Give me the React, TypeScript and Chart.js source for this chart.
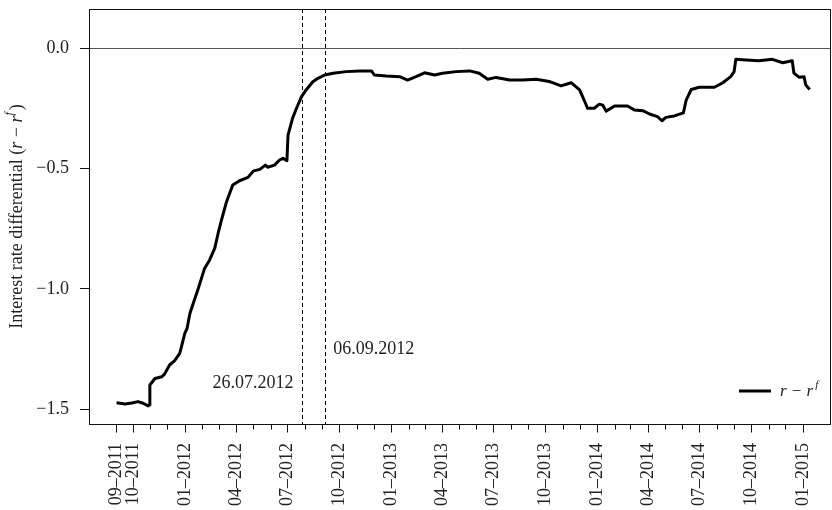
import { useEffect, useRef } from "react";
import { Chart, registerables } from "chart.js";

Chart.register(...registerables);

// ---- data (days since 01-09-2011, interest rate differential) ----
const dayOffsets = [
  1, 16, 28, 39, 48, 57, 59, 60, 69, 81,
  86, 95, 104, 113, 122, 126, 131, 137, 145, 157,
  166, 175, 181, 187, 196, 207, 219, 234, 244, 255,
  265, 269, 281, 290, 296, 303, 305, 313, 320, 329,
  337, 349, 358, 370, 385, 408, 432, 453, 458, 479,
  503, 517, 532, 547, 565, 579, 603, 627, 644, 659,
  674, 698, 721, 745, 768, 774, 789, 807, 822, 830,
  836, 848, 857, 863, 869, 884, 907, 919, 934, 946,
  960, 968, 975, 990, 1006, 1011, 1020, 1034, 1061, 1076,
  1090, 1096, 1099, 1117, 1140, 1164, 1182, 1199, 1202, 1211,
  1220, 1223, 1230,
];
const diffValues = [
  -1.473, -1.478, -1.474, -1.468, -1.475, -1.486, -1.482, -1.399, -1.372, -1.365,
  -1.354, -1.316, -1.298, -1.268, -1.185, -1.164, -1.102, -1.06, -1.005, -0.915,
  -0.88, -0.832, -0.77, -0.714, -0.638, -0.569, -0.551, -0.537, -0.51, -0.504,
  -0.486, -0.495, -0.486, -0.465, -0.458, -0.468, -0.362, -0.292, -0.25, -0.202,
  -0.174, -0.14, -0.126, -0.112, -0.105, -0.098, -0.095, -0.095, -0.112, -0.116,
  -0.119, -0.133, -0.119, -0.103, -0.112, -0.105, -0.098, -0.095, -0.105, -0.13,
  -0.122, -0.133, -0.133, -0.13, -0.139, -0.144, -0.157, -0.144, -0.174, -0.216,
  -0.25, -0.25, -0.233, -0.237, -0.262, -0.241, -0.241, -0.257, -0.26, -0.274,
  -0.285, -0.302, -0.288, -0.282, -0.269, -0.216, -0.172, -0.163, -0.163, -0.144,
  -0.119, -0.098, -0.047, -0.05, -0.053, -0.047, -0.061, -0.053, -0.104, -0.121,
  -0.119, -0.153, -0.172,
];
const xTickLabels = [
  "09–2011", "10–2011", "01–2012", "04–2012", "07–2012", "10–2012", "01–2013",
  "04–2013", "07–2013", "10–2013", "01–2014", "04–2014", "07–2014", "10–2014", "01–2015",
];
const yTickValues = [-1.5, -1.0, -0.5, 0.0];
const eventDates = ["2012-07-26", "2012-09-06"];
const eventLabels = ["26.07.2012", "06.09.2012"];
const eventLabelValues = [-1.391, -1.25];
const seriesName = "r − r";
const seriesSup = "f";
const yTitleMain = "Interest rate differential (";

const START = Date.UTC(2011, 8, 1);
const DAY = 86400000;
const dayOfYM = (y: number, m: number, d = 1) => Math.round((Date.UTC(y, m - 1, d) - START) / DAY);
const labelDay = (lab: string) => {
  const [mm, yy] = lab.split("–");
  return dayOfYM(+yy, +mm);
};
const majorDays = xTickLabels.map(labelDay);
const minorDays: number[] = [];
for (let y = 2011, m = 9; y < 2015 || (y === 2015 && m <= 1); ) {
  minorDays.push(dayOfYM(y, m));
  m++;
  if (m > 12) { m = 1; y++; }
}
const eventDays = eventDates.map((s) => {
  const [y, m, d] = s.split("-").map(Number);
  return dayOfYM(y, m, d);
});

const X_MIN = -47.9;
const X_MAX = 1266;
const Y_MIN = -1.561;
const Y_MAX = 0.162;
const FONT = "'Liberation Serif', 'DejaVu Serif', serif";
const TXT = "#222";

const fmtY = (v: number) => {
  const s = Math.abs(v).toFixed(1);
  return v < -1e-9 ? "−" + s : s;
};

const zeroPad = (s: any) => {
  s.paddingTop = 0;
  s.paddingBottom = 0;
  s.paddingLeft = 0;
  s.paddingRight = 0;
};

const decor = {
  id: "decor",
  beforeDatasetsDraw(chart: any) {
    const { ctx, chartArea: a, scales } = chart;
    const x = scales.x, y = scales.y;
    ctx.save();
    // zero line
    const y0 = Math.round(y.getPixelForValue(0)) + 0.5;
    ctx.strokeStyle = "#555";
    ctx.lineWidth = 1;
    ctx.beginPath();
    ctx.moveTo(a.left, y0);
    ctx.lineTo(a.right, y0);
    ctx.stroke();
    // event dashed lines
    ctx.strokeStyle = "#000";
    ctx.setLineDash([4, 3]);
    eventDays.forEach((d) => {
      const px = Math.round(x.getPixelForValue(d)) + 0.5;
      ctx.beginPath();
      ctx.moveTo(px, a.top);
      ctx.lineTo(px, a.bottom);
      ctx.stroke();
    });
    ctx.setLineDash([]);
    // event labels
    ctx.fillStyle = TXT;
    ctx.font = `18px ${FONT}`;
    ctx.textBaseline = "middle";
    eventDays.forEach((d, i) => {
      const px = x.getPixelForValue(d);
      const py = y.getPixelForValue(eventLabelValues[i]);
      if (i === 0) {
        ctx.textAlign = "right";
        ctx.fillText(eventLabels[i], px - 8, py);
      } else {
        ctx.textAlign = "left";
        ctx.fillText(eventLabels[i], px + 8, py);
      }
    });
    ctx.restore();
  },
  afterDraw(chart: any) {
    const { ctx, chartArea: a, scales } = chart;
    const x = scales.x;
    ctx.save();
    // box
    ctx.strokeStyle = "#111";
    ctx.lineWidth = 1;
    ctx.strokeRect(Math.round(a.left) + 0.5, Math.round(a.top) + 0.5, Math.round(a.right - a.left), Math.round(a.bottom - a.top));
    // x ticks
    const yb = Math.round(a.bottom) + 0.5;
    ctx.beginPath();
    minorDays.forEach((d) => {
      const px = Math.round(x.getPixelForValue(d)) + 0.5;
      const len = majorDays.includes(d) ? 8 : 5;
      ctx.moveTo(px, yb);
      ctx.lineTo(px, yb + len);
    });
    ctx.stroke();
    // y title
    const cy = (a.top + a.bottom) / 2;
    ctx.translate(17, cy);
    ctx.rotate(-Math.PI / 2);
    ctx.fillStyle = TXT;
    ctx.textBaseline = "middle";
    ctx.textAlign = "left";
    const norm = `18px ${FONT}`;
    const ital = `italic 18px ${FONT}`;
    const sup = `italic 12px ${FONT}`;
    const parts: [string, string, number][] = [
      [yTitleMain, norm, 0],
      ["r", ital, 0],
      [" − ", norm, 0],
      ["r", ital, 0],
      [seriesSup, sup, -7],
      [")", norm, 0],
    ];
    let total = 0;
    parts.forEach(([t, f]) => { ctx.font = f; total += ctx.measureText(t).width + (t === seriesSup ? 2 : 0); });
    let cx = -total / 2;
    parts.forEach(([t, f, dy]) => {
      ctx.font = f;
      ctx.fillText(t, cx, dy);
      cx += ctx.measureText(t).width + (t === seriesSup ? 2 : 0);
    });
    ctx.restore();
    // legend
    ctx.save();
    const ly = a.bottom - 33;
    const lx = a.right - 91;
    ctx.strokeStyle = "#000";
    ctx.lineWidth = 3;
    ctx.beginPath();
    ctx.moveTo(lx, ly);
    ctx.lineTo(lx + 32, ly);
    ctx.stroke();
    ctx.fillStyle = TXT;
    ctx.textBaseline = "middle";
    ctx.textAlign = "left";
    ctx.font = `italic 17px ${FONT}`;
    const tx = lx + 41;
    ctx.fillText(seriesName, tx, ly + 1);
    const w = ctx.measureText(seriesName).width;
    ctx.font = `italic 11px ${FONT}`;
    ctx.fillText(seriesSup, tx + w + 2, ly - 6);
    ctx.restore();
  },
};

export default function App() {
  const ref = useRef<HTMLCanvasElement>(null);
  useEffect(() => {
    document.body.style.margin = "0";
    const canvas = ref.current!;
    const chart = new Chart(canvas, {
      type: "line",
      data: {
        datasets: [
          {
            label: "r − rf",
            data: dayOffsets.map((d, i) => ({ x: d, y: diffValues[i] })),
            borderColor: "#000",
            borderWidth: 3,
            pointRadius: 0,
            tension: 0,
            fill: false,
            borderJoinStyle: "round",
          },
        ],
      },
      options: {
        animation: false,
        responsive: false,
        layout: { padding: { top: 9, right: 2, left: 0, bottom: 0 } },
        plugins: { legend: { display: false }, tooltip: { enabled: false } },
        scales: {
          x: {
            type: "linear",
            min: X_MIN,
            max: X_MAX,
            afterBuildTicks: (s: any) => {
              s.ticks = majorDays.map((v) => ({ value: v }));
            },
            ticks: {
              autoSkip: false,
              minRotation: 90,
              maxRotation: 90,
              padding: 19,
              color: TXT,
              font: { family: FONT, size: 18 },
              callback: (v: any) => {
                const i = majorDays.indexOf(Number(v));
                return i >= 0 ? xTickLabels[i] : "";
              },
            },
            grid: { display: false, drawTicks: false },
            border: { display: false },
            afterFit: (s: any) => {
              s.height = 86;
              zeroPad(s);
            },
          },
          y: {
            type: "linear",
            min: Y_MIN,
            max: Y_MAX,
            afterBuildTicks: (s: any) => {
              s.ticks = yTickValues.map((v) => ({ value: v }));
            },
            ticks: {
              padding: 11,
              color: TXT,
              font: { family: FONT, size: 18 },
              callback: (v: any) => fmtY(Number(v)),
            },
            grid: { drawOnChartArea: false, drawTicks: true, tickLength: 9, color: "#111", lineWidth: 1 },
            border: { display: false },
            afterFit: (s: any) => {
              s.width = 89;
              zeroPad(s);
            },
          },
        },
      },
      plugins: [decor],
    } as any);
    return () => chart.destroy();
  }, []);
  return <canvas ref={ref} width={832} height={510} style={{ display: "block" }} />;
}
